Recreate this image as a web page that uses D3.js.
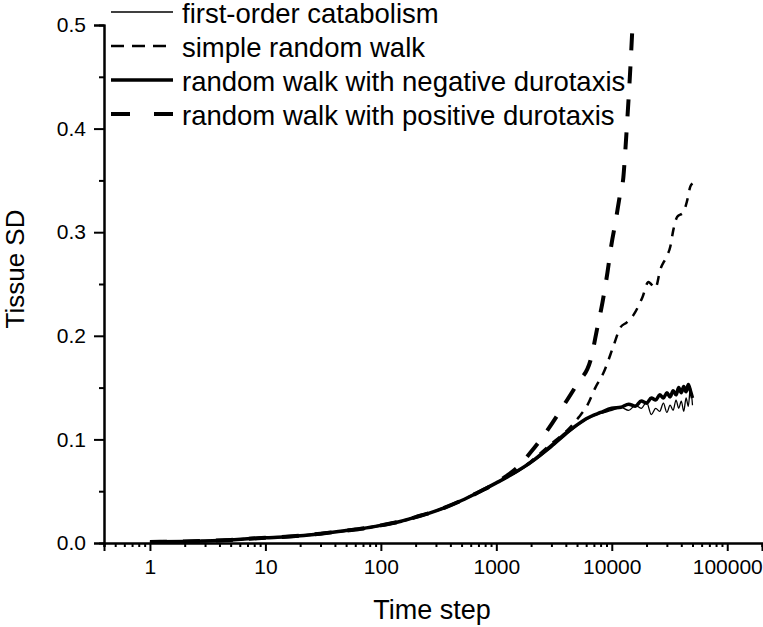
<!DOCTYPE html>
<html>
<head>
<meta charset="utf-8">
<script src="https://cdn.jsdelivr.net/npm/d3@7"></script>
<style>
body { margin: 0; background: #fff; }
text { font-family: "Liberation Sans", Arial, sans-serif; fill: #000; }
</style>
</head>
<body>
<div id="chart"></div>
<script>
// shared early part (all four runs overlap up to ~1000 steps)
var earlySteps = [1, 2, 3, 5, 7, 10, 15, 20, 30, 50, 70, 100, 150, 200, 300, 500, 700, 1000];
var earlySD = [0.001, 0.0015, 0.002, 0.003, 0.004, 0.005, 0.006, 0.007, 0.009, 0.012, 0.014, 0.017, 0.021, 0.025, 0.031, 0.041, 0.049, 0.058];

var firstOrderSteps = [1500, 2000, 3000, 4000, 5000, 6000, 8000, 10000, 12000, 14000, 16000, 18000, 20000, 22000, 24000, 26000, 28000, 30000, 32000, 34000, 36000, 38000, 40000, 42000, 44000, 46000, 48000, 50000];
var firstOrderSD = [0.068, 0.077, 0.092, 0.104, 0.113, 0.119, 0.125, 0.128, 0.131, 0.128, 0.133, 0.130, 0.136, 0.124, 0.130, 0.127, 0.135, 0.126, 0.133, 0.128, 0.138, 0.130, 0.137, 0.127, 0.140, 0.132, 0.150, 0.133];

var negativeSteps = [1500, 2000, 3000, 4000, 5000, 6000, 8000, 10000, 12000, 14000, 16000, 18000, 20000, 22000, 24000, 26000, 28000, 30000, 32000, 34000, 36000, 38000, 40000, 42000, 44000, 46000, 48000, 50000];
var negativeSD = [0.069, 0.078, 0.094, 0.106, 0.114, 0.120, 0.126, 0.130, 0.131, 0.134, 0.132, 0.137, 0.135, 0.140, 0.138, 0.143, 0.140, 0.145, 0.141, 0.147, 0.143, 0.150, 0.145, 0.151, 0.146, 0.153, 0.147, 0.140];

var simpleSteps = [1500, 2000, 3000, 3600, 4130, 5140, 6150, 7210, 8460, 10330, 11860, 13500, 15380, 18400, 20750, 23850, 26330, 29650, 32110, 34100, 36900, 41600, 45050, 47850, 50000];
var simpleSD = [0.069, 0.079, 0.096, 0.103, 0.109, 0.121, 0.133, 0.150, 0.164, 0.190, 0.208, 0.213, 0.220, 0.237, 0.252, 0.246, 0.264, 0.276, 0.286, 0.302, 0.315, 0.319, 0.331, 0.344, 0.347];

var positiveSteps = [1200, 1525, 2000, 2775, 3740, 5040, 6530, 7500, 8300, 9170, 9930, 10740, 11860, 12600, 13100, 13650, 14490, 15080];
var positiveSD = [0.064, 0.073, 0.088, 0.109, 0.131, 0.154, 0.176, 0.208, 0.232, 0.261, 0.288, 0.309, 0.338, 0.353, 0.379, 0.410, 0.459, 0.497];

var seriesNames = ["first-order catabolism", "simple random walk", "random walk with negative durotaxis", "random walk with positive durotaxis"];
var xTickValues = [1, 10, 100, 1000, 10000, 100000];
var yTickValues = [0, 0.1, 0.2, 0.3, 0.4, 0.5];

var width = 763, height = 627;
var x0 = 104, x1 = 762, y0 = 543, y1 = 25;
var fontStack = "'Liberation Sans', Arial, sans-serif";

var svg = d3.select("#chart").append("svg")
	.attr("width", width)
	.attr("height", height);

var x = d3.scaleLog().domain([0.4, 200000]).range([x0, x1]);
var y = d3.scaleLinear().domain([0, 0.5]).range([y0, y1]);

function join(steps, sd) {
	var pts = [];
	for (var i = 0; i < earlySteps.length; i++) pts.push([earlySteps[i], earlySD[i]]);
	for (var j = 0; j < steps.length; j++) pts.push([steps[j], sd[j]]);
	return pts;
}

var series = [
	{name: seriesNames[0], pts: join(firstOrderSteps, firstOrderSD), w: 1.3, dash: null, legendDash: null},
	{name: seriesNames[1], pts: join(simpleSteps, simpleSD), w: 2.5, dash: "9,8", legendDash: "13,8"},
	{name: seriesNames[2], pts: join(negativeSteps, negativeSD), w: 3.5, dash: null, legendDash: null},
	{name: seriesNames[3], pts: join(positiveSteps, positiveSD), w: 4, dash: "17,16", legendDash: "19,24"}
];

var line = d3.line()
	.x(function (d) { return x(d[0]); })
	.y(function (d) { return y(d[1]); })
	.curve(d3.curveMonotoneX);

svg.selectAll("path.series")
	.data(series)
	.enter().append("path")
	.attr("class", "series")
	.attr("fill", "none")
	.attr("stroke", "#000")
	.attr("stroke-width", function (d) { return d.w; })
	.attr("stroke-dasharray", function (d) { return d.dash; })
	.attr("stroke-linejoin", "round")
	.attr("d", function (d) { return line(d.pts); });

// x axis with log minor ticks
var xMinor = [];
for (var e = -1; e <= 5; e++) {
	for (var m = 2; m <= 9; m++) {
		var v = m * Math.pow(10, e);
		if (v >= 0.4 && v <= 200000) xMinor.push(v);
	}
}
var xAxis = svg.append("g").attr("transform", "translate(0," + y0 + ")");
xAxis.call(d3.axisBottom(x).tickValues(xMinor).tickSize(4).tickFormat(""));
xAxis.append("g").call(d3.axisBottom(x).tickValues(xTickValues).tickSize(8).tickPadding(8).tickFormat(d3.format("d")));
xAxis.selectAll("path.domain").attr("stroke-width", 2);
xAxis.selectAll(".tick line").attr("stroke-width", 2);
xAxis.selectAll("text").style("font-size", "21px").style("font-family", fontStack).attr("fill", "#000");

var yMinor = d3.range(0.05, 0.5, 0.1);
var yAxis = svg.append("g").attr("transform", "translate(" + x0 + ",0)");
yAxis.call(d3.axisLeft(y).tickValues(yMinor).tickSize(5).tickFormat(""));
yAxis.append("g").call(d3.axisLeft(y).tickValues(yTickValues).tickSize(10).tickPadding(8).tickFormat(d3.format(".1f")));
yAxis.selectAll("path.domain").attr("stroke-width", 2);
yAxis.selectAll(".tick line").attr("stroke-width", 2);
yAxis.selectAll("text").style("font-size", "21px").style("font-family", fontStack).attr("fill", "#000");

svg.append("text")
	.attr("x", 432)
	.attr("y", 619)
	.attr("text-anchor", "middle")
	.style("font-size", "27px")
	.text("Time step");

svg.append("text")
	.attr("transform", "translate(24,269) rotate(-90)")
	.attr("text-anchor", "middle")
	.style("font-size", "26px")
	.text("Tissue SD");

// legend
var legend = svg.append("g");
var rows = legend.selectAll("g")
	.data(series)
	.enter().append("g")
	.attr("transform", function (d, i) { return "translate(0," + (12 + i * 34) + ")"; });
rows.append("line")
	.attr("x1", 111).attr("x2", 173)
	.attr("stroke", "#000")
	.attr("stroke-width", function (d) { return d.w; })
	.attr("stroke-dasharray", function (d) { return d.legendDash; });
rows.append("text")
	.attr("x", 182)
	.attr("dy", "0.4em")
	.style("font-size", "27.5px")
	.text(function (d) { return d.name; });
</script>
</body>
</html>
